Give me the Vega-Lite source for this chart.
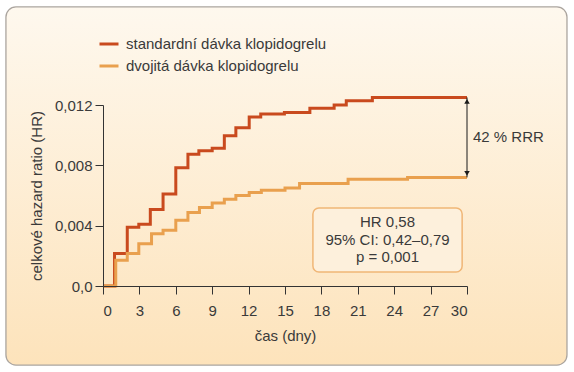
{
  "$schema": "https://vega.github.io/schema/vega-lite/v6.json",
  "autosize": {"type": "none"},
  "width": 364,
  "height": 181,
  "padding": {"left": 103, "top": 105, "right": 107, "bottom": 86},
  "background": "white",
  "config": {
    "view": {"stroke": null},
    "font": "Liberation Sans",
    "axis": {"zindex": 2, "domainColor": "#333333", "tickColor": "#333333", "labelColor": "#3a3a3a", "titleColor": "#3a3a3a", "labelFont": "Liberation Sans", "titleFont": "Liberation Sans", "labelFontSize": 15, "titleFontSize": 15, "titleFontWeight": "normal", "grid": false, "tickSize": 8, "domainWidth": 1, "tickWidth": 1, "labelOverlap": false},
    "legend": {"labelFont": "Liberation Sans", "labelFontSize": 15, "labelColor": "#3a3a3a", "labelLimit": 400}
  },
  "layer": [
    {
      "data": {"values": [{"x0": -8.0, "x1": 38.24, "y0": -0.00524, "y1": 0.0185}]},
      "mark": {"type": "rect", "cornerRadius": 10, "stroke": "#aba59f", "strokeWidth": 1.3,
        "fill": {"gradient": "linear", "x1": 0, "y1": 0, "x2": 0, "y2": 1, "stops": [{"offset": 0, "color": "#fef8ee"}, {"offset": 1, "color": "#fde3bb"}]}},
      "encoding": {
        "x": {"field": "x0", "type": "quantitative", "scale": {"domain": [0, 30], "nice": false}, "title": "čas (dny)",
          "axis": {"zindex": 2, "values": [0, 3, 6, 9, 12, 15, 18, 21, 24, 27, 30], "tickCount": 30, "labelPadding": 9, "titlePadding": 10}},
        "x2": {"field": "x1"},
        "y": {"field": "y0", "type": "quantitative", "scale": {"domain": [0, 0.012], "nice": false}, "title": "celkové hazard ratio (HR)",
          "axis": {"zindex": 2, "values": [0, 0.004, 0.008, 0.012], "tickCount": 10, "labelPadding": 3, "titlePadding": 10,
            "labelExpr": "datum.value == 0 ? '0,0' : replace(format(datum.value, '.3f'), '.', ',')"}},
        "y2": {"field": "y1"}
      }
    },
    {
      "data": {"values": [{"x0": 17.3, "x1": 29.6, "y0": 0.00093, "y1": 0.00517}]},
      "mark": {"type": "rect", "cornerRadius": 6, "stroke": "#f0b676", "strokeWidth": 1.5, "fill": "#fdf0dc"},
      "encoding": {
        "x": {"field": "x0", "type": "quantitative"},
        "x2": {"field": "x1"},
        "y": {"field": "y0", "type": "quantitative"},
        "y2": {"field": "y1"}
      }
    },
    {
      "data": {"values": [{"x": 23.45, "y": 0.00424, "label": ["HR 0,58", "95% CI: 0,42–0,79", "p = 0,001"]}]},
      "mark": {"type": "text", "fontSize": 15, "fill": "#3a3a3a", "align": "center", "baseline": "middle", "lineHeight": 17.5},
      "encoding": {
        "x": {"field": "x", "type": "quantitative"},
        "y": {"field": "y", "type": "quantitative"},
        "text": {"field": "label"}
      }
    },
    {
      "data": {"values": [
        {"day": 0, "hr": 0, "group": "standardní dávka klopidogrelu"},
        {"day": 0.95, "hr": 0.00215, "group": "standardní dávka klopidogrelu"},
        {"day": 2, "hr": 0.0039, "group": "standardní dávka klopidogrelu"},
        {"day": 2.95, "hr": 0.0041, "group": "standardní dávka klopidogrelu"},
        {"day": 3.9, "hr": 0.00507, "group": "standardní dávka klopidogrelu"},
        {"day": 4.95, "hr": 0.0061, "group": "standardní dávka klopidogrelu"},
        {"day": 6, "hr": 0.00784, "group": "standardní dávka klopidogrelu"},
        {"day": 7, "hr": 0.00874, "group": "standardní dávka klopidogrelu"},
        {"day": 7.9, "hr": 0.00897, "group": "standardní dávka klopidogrelu"},
        {"day": 9, "hr": 0.00914, "group": "standardní dávka klopidogrelu"},
        {"day": 10, "hr": 0.00996, "group": "standardní dávka klopidogrelu"},
        {"day": 10.95, "hr": 0.0105, "group": "standardní dávka klopidogrelu"},
        {"day": 12.05, "hr": 0.0112, "group": "standardní dávka klopidogrelu"},
        {"day": 13, "hr": 0.0114, "group": "standardní dávka klopidogrelu"},
        {"day": 14.95, "hr": 0.0115, "group": "standardní dávka klopidogrelu"},
        {"day": 17.05, "hr": 0.01178, "group": "standardní dávka klopidogrelu"},
        {"day": 19.05, "hr": 0.012, "group": "standardní dávka klopidogrelu"},
        {"day": 20.05, "hr": 0.01229, "group": "standardní dávka klopidogrelu"},
        {"day": 22.2, "hr": 0.0125, "group": "standardní dávka klopidogrelu"},
        {"day": 30, "hr": 0.0125, "group": "standardní dávka klopidogrelu"},
        {"day": 0, "hr": 0, "group": "dvojitá dávka klopidogrelu"},
        {"day": 1.05, "hr": 0.0017, "group": "dvojitá dávka klopidogrelu"},
        {"day": 2, "hr": 0.00215, "group": "dvojitá dávka klopidogrelu"},
        {"day": 2.95, "hr": 0.0028, "group": "dvojitá dávka klopidogrelu"},
        {"day": 4, "hr": 0.00347, "group": "dvojitá dávka klopidogrelu"},
        {"day": 4.95, "hr": 0.0037, "group": "dvojitá dávka klopidogrelu"},
        {"day": 6, "hr": 0.00436, "group": "dvojitá dávka klopidogrelu"},
        {"day": 7, "hr": 0.00487, "group": "dvojitá dávka klopidogrelu"},
        {"day": 7.95, "hr": 0.0052, "group": "dvojitá dávka klopidogrelu"},
        {"day": 9, "hr": 0.0055, "group": "dvojitá dávka klopidogrelu"},
        {"day": 10, "hr": 0.00575, "group": "dvojitá dávka klopidogrelu"},
        {"day": 10.95, "hr": 0.006, "group": "dvojitá dávka klopidogrelu"},
        {"day": 12.05, "hr": 0.0062, "group": "dvojitá dávka klopidogrelu"},
        {"day": 13.05, "hr": 0.00635, "group": "dvojitá dávka klopidogrelu"},
        {"day": 15, "hr": 0.0065, "group": "dvojitá dávka klopidogrelu"},
        {"day": 16.2, "hr": 0.0068, "group": "dvojitá dávka klopidogrelu"},
        {"day": 20.2, "hr": 0.00708, "group": "dvojitá dávka klopidogrelu"},
        {"day": 25.1, "hr": 0.0072, "group": "dvojitá dávka klopidogrelu"},
        {"day": 30, "hr": 0.0072, "group": "dvojitá dávka klopidogrelu"}
      ]},
      "mark": {"type": "line", "interpolate": "step-after", "strokeWidth": 3},
      "encoding": {
        "x": {"field": "day", "type": "quantitative", "title": "čas (dny)",
          "axis": {"zindex": 2, "values": [0, 3, 6, 9, 12, 15, 18, 21, 24, 27, 30], "tickCount": 30, "labelPadding": 9, "titlePadding": 10}},
        "y": {"field": "hr", "type": "quantitative", "title": "celkové hazard ratio (HR)",
          "axis": {"zindex": 2, "values": [0, 0.004, 0.008, 0.012], "tickCount": 10, "labelPadding": 3, "titlePadding": 10,
            "labelExpr": "datum.value == 0 ? '0,0' : replace(format(datum.value, '.3f'), '.', ',')"}},
        "color": {"field": "group", "type": "nominal",
          "scale": {"domain": ["standardní dávka klopidogrelu", "dvojitá dávka klopidogrelu"], "range": ["#c94a1e", "#e9a04e"]},
          "legend": {"title": null, "orient": "none", "legendX": -5, "legendY": -72, "symbolType": "stroke", "symbolStrokeWidth": 3, "symbolSize": 361, "rowPadding": 3, "labelOffset": 6}},
        "order": {"field": "group", "sort": "descending"}
      }
    },
    {
      "data": {"values": [{"x": 30, "y0": 0.0072, "y1": 0.0125}]},
      "mark": {"type": "rule", "color": "#1a1a1a", "strokeWidth": 1},
      "encoding": {
        "x": {"field": "x", "type": "quantitative"},
        "y": {"field": "y0", "type": "quantitative"},
        "y2": {"field": "y1"}
      }
    },
    {
      "data": {"values": [{"x": 30, "y": 0.0125}]},
      "mark": {"type": "point", "shape": "triangle-up", "filled": true, "color": "#1a1a1a", "size": 30, "opacity": 1, "yOffset": 4},
      "encoding": {
        "x": {"field": "x", "type": "quantitative"},
        "y": {"field": "y", "type": "quantitative"}
      }
    },
    {
      "data": {"values": [{"x": 30, "y": 0.0072}]},
      "mark": {"type": "point", "shape": "triangle-down", "filled": true, "color": "#1a1a1a", "size": 30, "opacity": 1, "yOffset": -4},
      "encoding": {
        "x": {"field": "x", "type": "quantitative"},
        "y": {"field": "y", "type": "quantitative"}
      }
    },
    {
      "data": {"values": [{"x": 30, "y": 0.0099, "label": "42 % RRR"}]},
      "mark": {"type": "text", "fontSize": 15, "fill": "#3a3a3a", "align": "left", "baseline": "middle", "dx": 6},
      "encoding": {
        "x": {"field": "x", "type": "quantitative"},
        "y": {"field": "y", "type": "quantitative"},
        "text": {"field": "label"}
      }
    }
  ]
}
